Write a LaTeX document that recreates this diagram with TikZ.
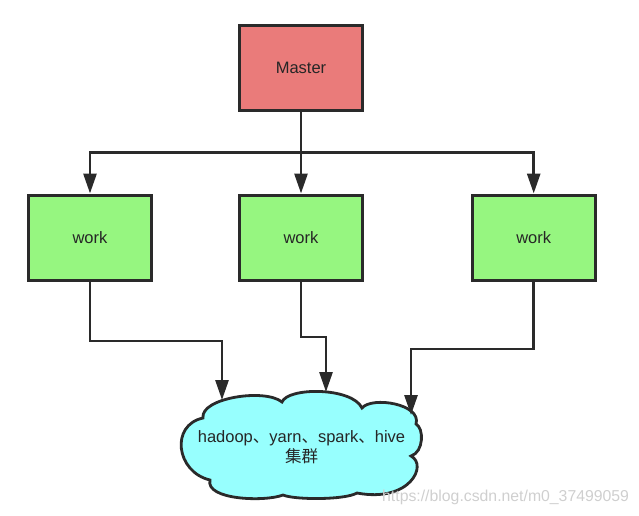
\documentclass[tikz,border=0pt]{standalone}
\usepackage{fontspec}
\setmainfont{Liberation Sans}
\newfontfamily\cjk{Noto Sans CJK SC}
\usetikzlibrary{arrows.meta}
\definecolor{ink}{HTML}{2A2A2A}
\definecolor{txt}{HTML}{262626}
\definecolor{masterred}{HTML}{EA7B7A}
\definecolor{workgreen}{HTML}{96F680}
\definecolor{cloudcyan}{HTML}{97FFFE}
\definecolor{wmark}{HTML}{CFCFCF}
\tikzset{
  box/.style={draw=ink, line width=3pt, minimum width=123pt, minimum height=85pt,
    inner sep=0pt, text=txt, font=\fontsize{16.5}{20}\selectfont},
  conn/.style={draw=ink, line width=2.8pt},
  arr/.style={conn, -{Triangle[length=20pt,width=13pt]}},
}
\begin{document}
\begin{tikzpicture}[x=1pt,y=-1pt]
\useasboundingbox (0,0) rectangle (639,515);
% nodes
\node[box, fill=masterred] (m) at (301,68) {Master};
\node[box, fill=workgreen] (w1) at (90,237.5) {work};
\node[box, fill=workgreen] (w2) at (301,237.5) {work};
\node[box, fill=workgreen] (w3) at (533.7,237.5) {work};
% cloud
\draw[draw=ink, line width=2.8pt, fill=cloudcyan]
  (203,418) .. controls (200,398) and (265,388) .. (282,402)
  .. controls (288,387) and (352,387) .. (362,408)
  .. controls (372,396) and (422,404) .. (416,424)
  .. controls (424,428) and (424,452) .. (411,456)
  .. controls (428,465) and (410,503) .. (357,493)
  .. controls (345,500) and (295,500) .. (283,495)
  .. controls (265,502) and (205,500) .. (210,480)
  .. controls (176,472) and (170,425) .. (203,418) -- cycle;
\node[align=center, text=txt, font=\fontsize{16.5}{20}\selectfont, inner sep=0pt] (cl) at (301.5,447)
  {hadoop{\cjk 、}yarn{\cjk 、}spark{\cjk 、}hive\\{\cjk 集群}};
\coordinate (c1) at (222,400);
\coordinate (c2) at (326,392);
\coordinate (c3) at (411,415);
% connectors
\coordinate (j) at (301,152.7);
\draw[conn] (m.south) -- (j);
\draw[arr] (j) -| (w1.north);
\draw[arr] (j) -- (w2.north);
\draw[arr] (j) -| (w3.north);
\draw[arr] (w1.south) -- (w1.south |- 0,341) -| (c1);
\draw[arr] (w2.south) -- (w2.south |- 0,337) -| (c2);
\draw[arr] (w3.south) -- (w3.south |- 0,349) -| (c3);
% watermark
\node[text=wmark, font=\fontsize{15.8}{18}\selectfont, inner sep=0pt, anchor=west] (wm) at (382,497) {https://blog.csdn.net/m0\_37499059};
\end{tikzpicture}
\end{document}
